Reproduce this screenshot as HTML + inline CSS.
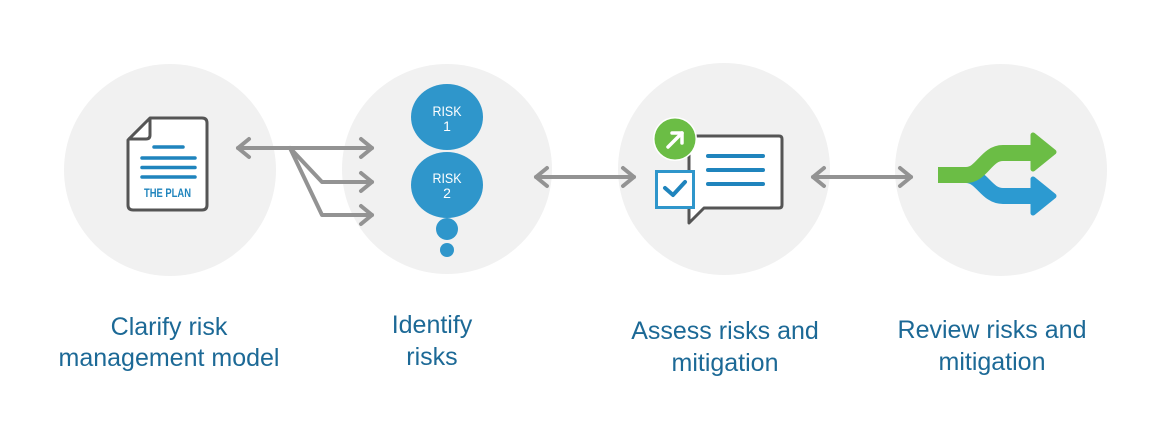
<!DOCTYPE html>
<html><head><meta charset="utf-8"><style>
html,body{margin:0;padding:0;background:#fff;}
svg{display:block;}
</style></head><body>
<svg width="1157" height="421" viewBox="0 0 1157 421" xmlns="http://www.w3.org/2000/svg">
<rect width="1157" height="421" fill="#fff"/>
<!-- background circles -->
<circle cx="170" cy="170" r="106" fill="#f1f1f1"/>
<circle cx="447" cy="169" r="105" fill="#f1f1f1"/>
<circle cx="724" cy="169" r="106" fill="#f1f1f1"/>
<circle cx="1001" cy="170" r="106" fill="#f1f1f1"/>

<!-- connectors -->
<g stroke="#939393" stroke-width="4" fill="none" stroke-linecap="round" stroke-linejoin="round">
  <line x1="238" y1="148" x2="372" y2="148"/>
  <polyline points="249,139 238,148 249,157"/>
  <polyline points="361,139 372,148 361,157"/>
  <polyline points="290,148 322,182 372,182"/>
  <polyline points="361,173 372,182 361,191"/>
  <polyline points="290,148 322,215 372,215"/>
  <polyline points="361,206 372,215 361,224"/>

  <line x1="536" y1="177" x2="634" y2="177"/>
  <polyline points="547,168 536,177 547,186"/>
  <polyline points="623,168 634,177 623,186"/>

  <line x1="813" y1="177" x2="911" y2="177"/>
  <polyline points="824,168 813,177 824,186"/>
  <polyline points="900,168 911,177 900,186"/>
</g>

<!-- Document icon -->
<path d="M150,118 L202,118 Q207,118 207,123 L207,205 Q207,210 202,210 L133,210 Q128,210 128,205 L128,140 Z" fill="#fff" stroke="#555" stroke-width="3" stroke-linejoin="round"/>
<path d="M150,118 L150,135 Q150,139 146,139 L128,139" fill="none" stroke="#555" stroke-width="3" stroke-linejoin="round"/>
<g stroke="#1f84bd" stroke-width="3.5" stroke-linecap="round">
  <line x1="154" y1="147" x2="183" y2="147"/>
  <line x1="142" y1="158" x2="195" y2="158"/>
  <line x1="142" y1="167.5" x2="195" y2="167.5"/>
  <line x1="142" y1="177" x2="195" y2="177"/>
</g>
<text x="144" y="197" font-family="Liberation Sans, sans-serif" font-size="12" font-weight="bold" fill="#1f84bd" textLength="47" lengthAdjust="spacingAndGlyphs">THE PLAN</text>

<!-- Risk circles -->
<ellipse cx="447" cy="117" rx="36" ry="33" fill="#2f96cb"/>
<ellipse cx="447" cy="185" rx="36" ry="33" fill="#2f96cb"/>
<circle cx="447" cy="229" r="11" fill="#2f96cb"/>
<circle cx="447" cy="250" r="7" fill="#2f96cb"/>
<g font-family="Liberation Sans, sans-serif" font-size="14" fill="#fff" text-anchor="middle">
  <text x="447" y="116" textLength="29" lengthAdjust="spacingAndGlyphs">RISK</text>
  <text x="447" y="131">1</text>
  <text x="447" y="183" textLength="29" lengthAdjust="spacingAndGlyphs">RISK</text>
  <text x="447" y="198">2</text>
</g>

<!-- Assess icon -->
<path d="M689,223 L689,139 Q689,136 692,136 L779,136 Q782,136 782,139 L782,205 Q782,208 779,208 L704,208 Z" fill="#fff" stroke="#555" stroke-width="3" stroke-linejoin="round"/>
<g stroke="#1f84bd" stroke-width="4" stroke-linecap="round">
  <line x1="708" y1="156" x2="763" y2="156"/>
  <line x1="708" y1="170" x2="763" y2="170"/>
  <line x1="708" y1="184" x2="763" y2="184"/>
</g>
<rect x="656.5" y="171.5" width="37" height="36" fill="#fff" stroke="#2f96cb" stroke-width="3"/>
<polyline points="665,188 673,195 685,182" fill="none" stroke="#1f84bd" stroke-width="4" stroke-linecap="round" stroke-linejoin="round"/>
<circle cx="675" cy="139" r="22" fill="#fff"/>
<circle cx="675" cy="139" r="20.5" fill="#6bbd45"/>
<g stroke="#fff" stroke-width="3.5" stroke-linecap="round" stroke-linejoin="round" fill="none">
  <line x1="668" y1="147" x2="682" y2="133"/>
  <polyline points="672,133 682,133 682,143"/>
</g>

<!-- Review icon -->
<path d="M966,175 C982,175 986,196 1003,196 L1036,196" fill="none" stroke="#2c9ad1" stroke-width="16"/>
<polygon points="1033,179 1054,196 1033,213" fill="#2c9ad1" stroke="#2c9ad1" stroke-width="5" stroke-linejoin="round"/>
<path d="M938,175 L966,175 C982,175 986,153 1003,153 L1036,153" fill="none" stroke="#6bbd45" stroke-width="16"/>
<polygon points="1033,135 1054,152 1033,169" fill="#6bbd45" stroke="#6bbd45" stroke-width="5" stroke-linejoin="round"/>

<!-- Labels -->
<g font-family="Liberation Sans, sans-serif" font-size="25" fill="#1c6996" text-anchor="middle">
  <text x="169" y="335">Clarify risk</text>
  <text x="169" y="366">management model</text>
  <text x="432" y="333">Identify</text>
  <text x="432" y="365">risks</text>
  <text x="725" y="339">Assess risks and</text>
  <text x="725" y="371">mitigation</text>
  <text x="992" y="338">Review risks and</text>
  <text x="992" y="370">mitigation</text>
</g>
</svg>
</body></html>
